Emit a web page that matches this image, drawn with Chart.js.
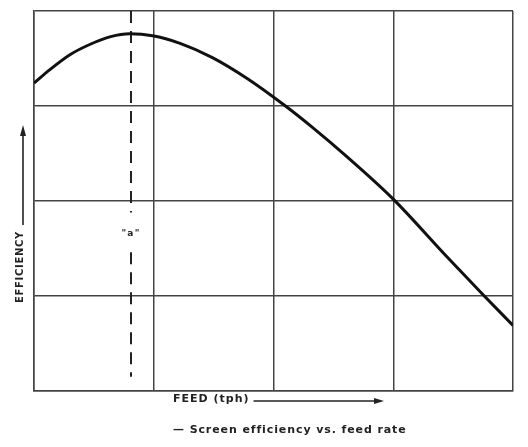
<!DOCTYPE html>
<html><head><meta charset="utf-8">
<script src="https://cdn.jsdelivr.net/npm/chart.js@4"></script>
<style>html,body{margin:0;padding:0;background:#fff}#wrap{width:528px;height:447px;position:relative}</style>
</head><body><div id="wrap"><canvas id="c"></canvas></div>
<script>
// Feed (grid units, 0-4) and efficiency (grid units, 0-4)
const feed = [0.0, 0.13, 0.30, 0.47, 0.64, 0.80, 0.99, 1.22, 1.49, 1.78, 2.10, 2.33, 2.61, 3.0, 3.45, 3.76, 4.0];
const efficiency = [3.24, 3.38, 3.54, 3.65, 3.73, 3.76, 3.74, 3.66, 3.51, 3.29, 3.0, 2.77, 2.47, 2.02, 1.41, 1.0, 0.69];
const markerFeed = 0.81;            // dashed line "a"
const markerTop = [4.0, 1.88];      // upper dashed segment
const markerBottom = [1.46, 0.15];  // lower dashed segment
const markerLabel = '"a"';
const xTitle = 'FEED (tph)';
const yTitle = 'EFFICIENCY';
const caption = '\u2014 Screen efficiency vs. feed rate';

const curve = feed.map((x, i) => ({x: x, y: efficiency[i]}));
const marker = [
  {x: markerFeed, y: markerTop[0]}, {x: markerFeed, y: markerTop[1]},
  {x: markerFeed, y: null},
  {x: markerFeed, y: markerBottom[0]}, {x: markerFeed, y: markerBottom[1]}
];

const FONT = '"DejaVu Sans", "Liberation Sans", Arial, sans-serif';
const textPlugin = {
  id: 'texts',
  afterDraw(chart) {
    const ctx = chart.ctx;
    const xs = chart.scales.x, ys = chart.scales.y;
    const ca = chart.chartArea;
    ctx.save();
    ctx.fillStyle = '#222';
    ctx.strokeStyle = '#222';
    // "a" label
    ctx.font = 'bold 9px ' + FONT;
    ctx.letterSpacing = '1.2px';
    ctx.textAlign = 'center';
    ctx.textBaseline = 'middle';
    ctx.fillText(markerLabel, xs.getPixelForValue(markerFeed), ys.getPixelForValue((markerTop[1] + markerBottom[0]) / 2) + 1);
    // x title + arrow
    ctx.font = 'bold 11px ' + FONT;
    ctx.letterSpacing = '1px';
    ctx.textAlign = 'left';
    const tx = 173, ty = ca.bottom + 8;
    ctx.fillText(xTitle, tx, ty);
    const w = ctx.measureText(xTitle).width;
    ctx.lineWidth = 1.6;
    ctx.beginPath(); ctx.moveTo(tx + w + 4, ty + 2); ctx.lineTo(376, ty + 2); ctx.stroke();
    ctx.beginPath(); ctx.moveTo(384, ty + 2); ctx.lineTo(374, ty - 1); ctx.lineTo(374, ty + 5); ctx.closePath(); ctx.fill();
    // caption
    ctx.letterSpacing = '0.9px';
    ctx.fillText(caption, 173, ca.bottom + 39);
    // y title rotated + arrow
    ctx.font = 'bold 10px ' + FONT;
    ctx.letterSpacing = '0.7px';
    ctx.save();
    ctx.translate(20, 303);
    ctx.rotate(-Math.PI / 2);
    ctx.textAlign = 'left';
    ctx.fillText(yTitle, 0, 0);
    const wy = ctx.measureText(yTitle).width;
    ctx.restore();
    const ax = 23;
    ctx.lineWidth = 1.6;
    ctx.beginPath(); ctx.moveTo(ax, 303 - wy - 6); ctx.lineTo(ax, 134); ctx.stroke();
    ctx.beginPath(); ctx.moveTo(ax, 125); ctx.lineTo(ax - 3, 136); ctx.lineTo(ax + 3, 136); ctx.closePath(); ctx.fill();
    ctx.restore();
  }
};

new Chart(document.getElementById('c'), {
  type: 'scatter',
  data: {
    datasets: [
      {data: curve, showLine: true, borderColor: '#111', borderWidth: 3, pointRadius: 0, cubicInterpolationMode: 'monotone', fill: false},
      {data: marker, showLine: true, spanGaps: false, borderColor: '#222', borderWidth: 2, borderDash: [12, 8], pointRadius: 0, fill: false}
    ]
  },
  options: {
    responsive: true,
    maintainAspectRatio: false,
    animation: false,
    devicePixelRatio: 1,
    layout: {padding: {left: 34, right: 15, top: 11, bottom: 56}},
    plugins: {legend: {display: false}, tooltip: {enabled: false}},
    scales: {
      x: {type: 'linear', min: 0, max: 4,
          ticks: {display: false, stepSize: 1},
          grid: {color: '#444', lineWidth: 1.5, drawTicks: false},
          border: {color: '#444', width: 1.5}},
      y: {type: 'linear', min: 0, max: 4,
          ticks: {display: false, stepSize: 1},
          grid: {color: '#444', lineWidth: 1.5, drawTicks: false},
          border: {color: '#444', width: 1.5}}
    }
  },
  plugins: [textPlugin]
});
</script>
</body></html>
